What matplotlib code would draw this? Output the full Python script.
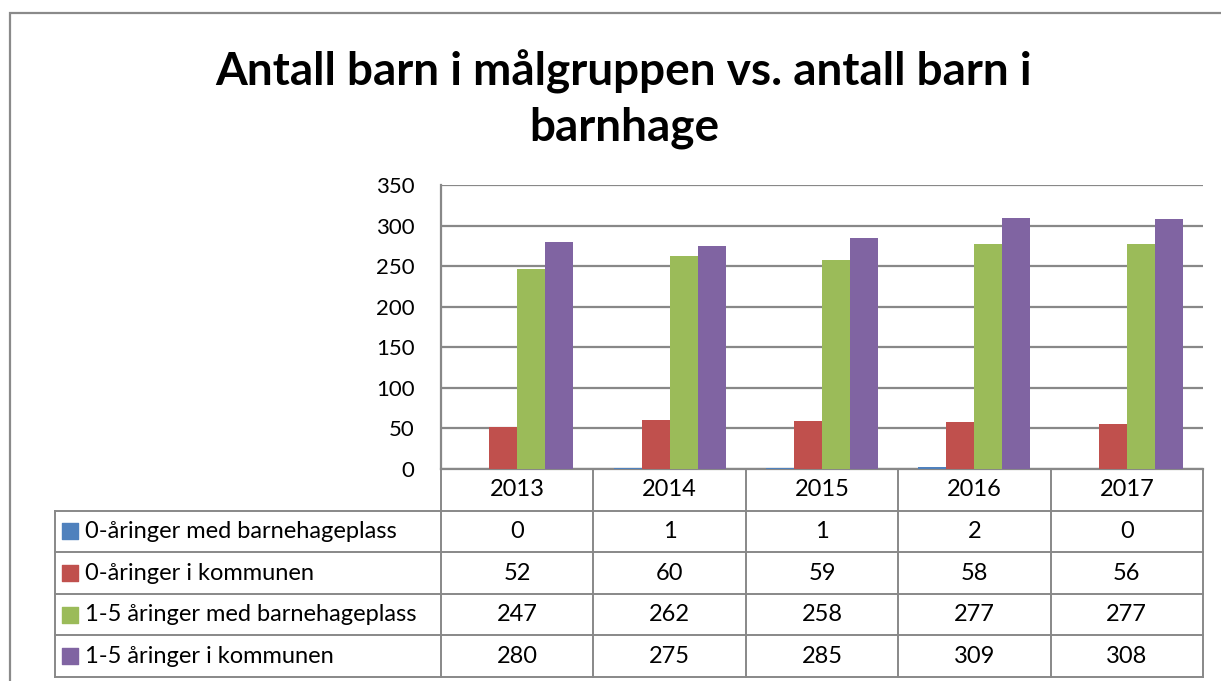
import matplotlib
matplotlib.use("Agg")
import matplotlib.pyplot as plt
from matplotlib.patches import Rectangle
import numpy as np

plt.rcParams["font.family"] = ["Lato", "DejaVu Sans"]

# Data
years = ["2013", "2014", "2015", "2016", "2017"]
series_names = [
    "0-åringer med barnehageplass",
    "0-åringer i kommunen",
    "1-5 åringer med barnehageplass",
    "1-5 åringer i kommunen",
]
zero_with_place = [0, 1, 1, 2, 0]
zero_in_municipality = [52, 60, 59, 58, 56]
one_five_with_place = [247, 262, 258, 277, 277]
one_five_in_municipality = [280, 275, 285, 309, 308]
colors = ["#4F81BD", "#C0504D", "#9BBB59", "#8064A2"]

series = [zero_with_place, zero_in_municipality, one_five_with_place, one_five_in_municipality]

W, H = 1221, 681
fig = plt.figure(figsize=(W / 100, H / 100), dpi=100)

grid_col = "#888888"
fs = 17

# outer chart frame (cut off on right and bottom like the screenshot)
fig.patches.append(Rectangle((10 / W, -0.1), 1.2, 1 - 13 / H + 0.1, transform=fig.transFigure,
                             fill=False, edgecolor="#8a8a8a", lw=1.6))

fig.text(624 / W, 1 - 72 / H, "Antall barn i målgruppen vs. antall barn i",
         ha="center", va="center", fontsize=33, fontweight="bold")
fig.text(624 / W, 1 - 128 / H, "barnhage",
         ha="center", va="center", fontsize=33, fontweight="bold")

# main plot area
ax = fig.add_axes([441 / W, 1 - 469 / H, (1203 - 441) / W, (469 - 185) / H])
x = np.arange(len(years))
bw = 0.184
for i, vals in enumerate(series):
    ax.bar(x + (i - 1.5) * bw, vals, width=bw, color=colors[i], edgecolor="none", zorder=3)

ax.set_xlim(-0.5, len(years) - 0.5)
ax.set_ylim(0, 350)
ax.set_yticks(np.arange(0, 351, 50))
ax.set_xticks([])
ax.yaxis.grid(True, color=grid_col, lw=1.6)
ax.set_axisbelow(True)
for s in ["top", "right"]:
    ax.spines[s].set_visible(False)
for s in ["left", "bottom"]:
    ax.spines[s].set_color(grid_col)
    ax.spines[s].set_linewidth(1.6)
ax.tick_params(axis="y", length=0, pad=19, labelsize=16)

# data table below the plot
tab = fig.add_axes([55 / W, 1 - 677 / H, (1203 - 55) / W, (677 - 469) / H])
leg_w = (441 - 55) / ((1203 - 441) / len(years))
tab.set_xlim(-0.5 - leg_w, len(years) - 0.5)
tab.set_ylim(0, 5)
tab.axis("off")

lw = 1.4
# horizontal lines of the table
for r in range(5):
    tab.plot([-0.5 - leg_w, len(years) - 0.5], [r, r], color=grid_col, lw=lw, clip_on=False)
# vertical lines
tab.plot([-0.5 - leg_w, -0.5 - leg_w], [0, 4], color=grid_col, lw=lw, clip_on=False)
for c in range(len(years) + 1):
    tab.plot([c - 0.5, c - 0.5], [0, 5], color=grid_col, lw=lw, clip_on=False)

for j, yr in enumerate(years):
    tab.text(j, 4.5, yr, ha="center", va="center", fontsize=fs)

for i, (name, vals) in enumerate(zip(series_names, series)):
    yc = 3.5 - i
    tab.scatter([-0.5 - leg_w + 0.1], [yc], marker="s", s=140, color=colors[i], clip_on=False)
    tab.text(-0.5 - leg_w + 0.195, yc, name, ha="left", va="center", fontsize=fs)
    for j, v in enumerate(vals):
        tab.text(j, yc, str(v), ha="center", va="center", fontsize=fs)

fig.savefig("out.png", dpi=100)
